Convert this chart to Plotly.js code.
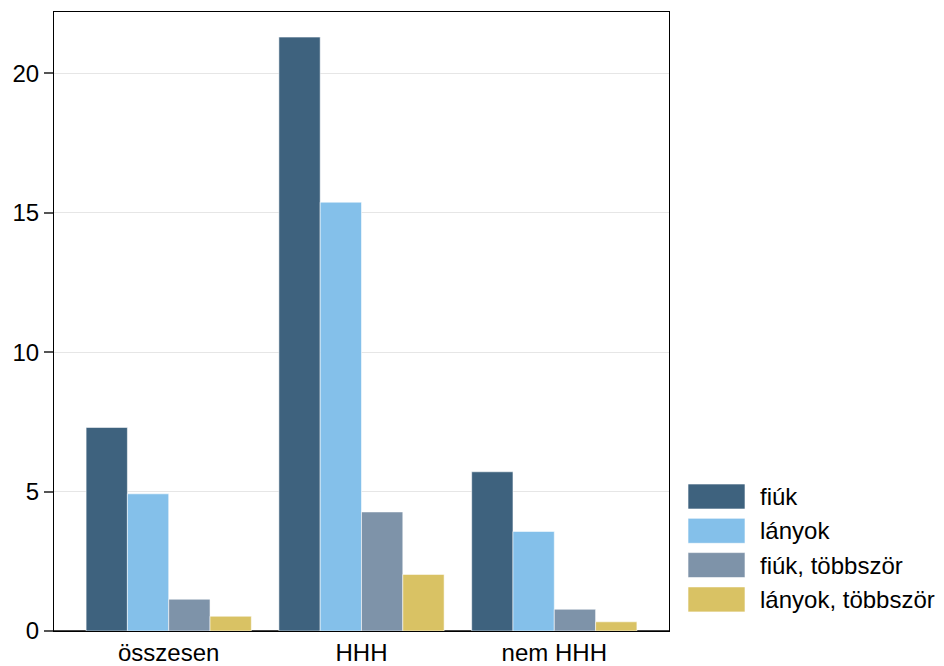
<!DOCTYPE html>
<html>
<head>
<meta charset="utf-8">
<script src="https://cdn.plot.ly/plotly-3.0.1.min.js"></script>
<style>html,body{margin:0;padding:0;background:#fff;}#chart{width:944px;height:666px;}</style>
</head>
<body>
<div id="chart"></div>
<script>
// Data
const categories = ["összesen", "HHH", "nem HHH"];
const seriesNames = ["fiúk", "lányok", "fiúk, többször", "lányok, többször"];
const fiuk = [7.3, 21.3, 5.71];
const lanyok = [4.92, 15.38, 3.57];
const fiukTobbszor = [1.14, 4.27, 0.78];
const lanyokTobbszor = [0.53, 2.03, 0.33];
const yTicks = [0, 5, 10, 15, 20];

const seriesValues = [fiuk, lanyok, fiukTobbszor, lanyokTobbszor];
const colors = ["#3e627e", "#84c0ea", "#7e93a9", "#d9c264"];
const FONT = "Liberation Sans, Arial, sans-serif";
const FS = 24;

const traces = seriesNames.map((name, i) => ({
  type: "bar",
  name: name,
  x: categories,
  y: seriesValues[i],
  marker: { color: colors[i], line: { color: "rgba(255,255,255,0.55)", width: 1 } },
  showlegend: false,
  hoverinfo: "x+y+name"
}));

// custom legend (large swatches) in paper coordinates
const shapes = [];
const annotations = [];
const plotW = 944 - 54 - 275;
const plotH = 666 - 12 - 35;
const px2x = p => (p - 54) / plotW;
const px2y = p => (666 - 35 - p) / plotH;
seriesNames.forEach((name, i) => {
  const top = 484 + i * 34.3;
  shapes.push({
    type: "rect", xref: "paper", yref: "paper",
    x0: px2x(688), x1: px2x(745), y0: px2y(top + 25), y1: px2y(top),
    fillcolor: colors[i], line: { color: "rgba(255,255,255,0.6)", width: 1 }
  });
  annotations.push({
    xref: "paper", yref: "paper", x: px2x(758), y: px2y(top + 12.5),
    xanchor: "left", yanchor: "middle", showarrow: false, text: name,
    font: { family: FONT, size: FS, color: "#000" }
  });
});

const layout = {
  width: 944, height: 666,
  margin: { l: 54, r: 275, t: 12, b: 35 },
  paper_bgcolor: "#fff", plot_bgcolor: "#fff",
  font: { family: FONT, size: FS, color: "#000" },
  barmode: "group",
  bargap: 0.143,
  bargroupgap: 0,
  showlegend: false,
  xaxis: {
    type: "category",
    range: [-0.595, 2.595],
    showline: true, linecolor: "#000", linewidth: 1, mirror: true,
    ticks: "", showgrid: false,
    tickfont: { family: FONT, size: FS, color: "#000" }
  },
  yaxis: {
    range: [0, 22.2],
    tickvals: yTicks,
    ticks: "outside", ticklen: 9, tickwidth: 2, tickcolor: "#555",
    showline: true, linecolor: "#000", linewidth: 1, mirror: true,
    showgrid: true, gridcolor: "#e6e6e6", gridwidth: 1,
    zeroline: true, zerolinecolor: "#444", zerolinewidth: 2,
    tickfont: { family: FONT, size: FS, color: "#000" }
  },
  shapes: shapes,
  annotations: annotations
};

Plotly.newPlot("chart", traces, layout, { displayModeBar: false, staticPlot: true });
</script>
</body>
</html>
